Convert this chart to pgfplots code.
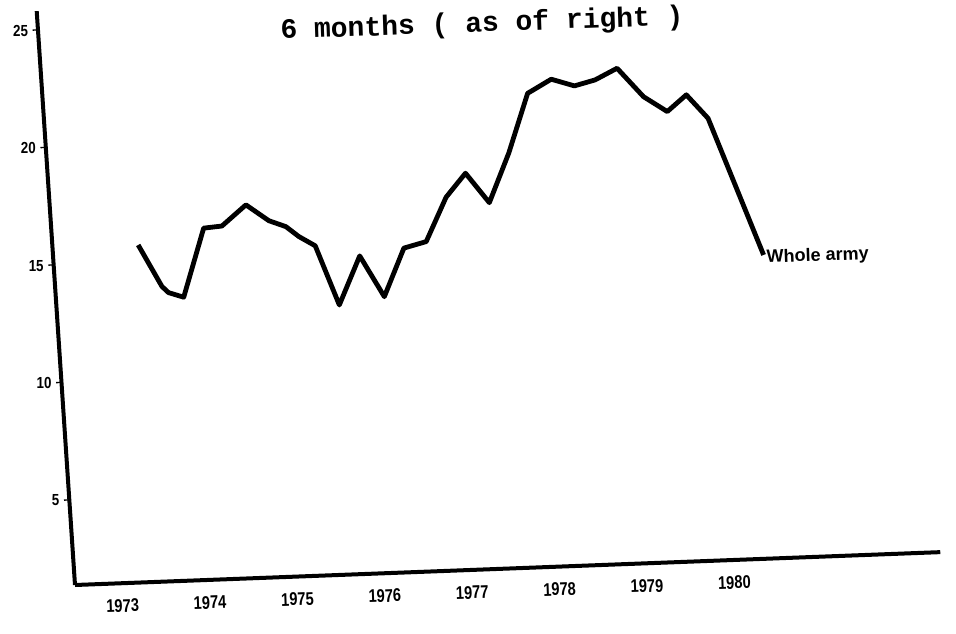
\documentclass[border=0pt]{standalone}
\usepackage{fontspec}
\setmainfont{Liberation Sans}
\newfontfamily\typew{Liberation Mono}
\usepackage{pgfplots}
\pgfplotsset{compat=1.18}

\begin{document}
\begin{tikzpicture}
\begin{axis}[
  name=ax,
  % the scan is slightly skewed: unit vectors follow it
  x={(65.55pt,2.49pt)}, y={(-1.176pt,17.625pt)},
  xmin=1972.47, xmax=1982.37,
  ymin=1.38, ymax=25.8,
  axis lines=left,
  axis line style={line width=3pt,-},
  xtick={1973,...,1980},
  ytick={5,10,15,20,25},
  /pgf/number format/assume math mode=true,
  /pgf/number format/1000 sep={},
  xticklabel style={font=\bfseries\fontsize{11}{11}\selectfont,rotate=2,yscale=1.25,yshift=-3pt},
  yticklabel style={font=\bfseries\fontsize{10}{10}\selectfont,yscale=1.2},
  xtick style={draw=none},
  ytick style={line width=1pt,black},
  major tick length=4pt,
  tick align=outside,
  clip=false,
]
\addplot[line width=3.6pt,black,line join=round] coordinates {
  (1973.45,15.71) (1973.69,13.91) (1973.76,13.64) (1973.93,13.42)
  (1974.21,16.32) (1974.42,16.38) (1974.71,17.24) (1974.96,16.53)
  (1975.15,16.25) (1975.29,15.81) (1975.47,15.39) (1975.70,12.84)
  (1975.97,14.89) (1976.22,13.12) (1976.48,15.15) (1976.74,15.39)
  (1977.00,17.24) (1977.24,18.23) (1977.49,16.94) (1977.75,19.02)
  (1978.01,21.52) (1978.29,22.08) (1978.55,21.76) (1978.79,21.98)
  (1979.05,22.44) (1979.33,21.19) (1979.59,20.52) (1979.82,21.20)
  (1980.05,20.17) (1980.58,14.28)
};
\node[anchor=west,font=\bfseries\fontsize{13.5}{13.5}\selectfont,rotate=2,inner sep=2pt,yshift=-2.5pt]
  at (axis cs:1980.58,14.28) {Whole army};
\node[anchor=base,font=\typew\bfseries\fontsize{21}{21}\selectfont,rotate=2]
  at (axis cs:1977.54,24.2) {6 months ( as of right )};
\coordinate (O) at (axis cs:1972.47,1.38);
\end{axis}
\pgfresetboundingbox
\path[use as bounding box] ([shift={(-56.25pt,-36pt)}]O) rectangle ++(717pt,474.75pt);
\end{tikzpicture}
\end{document}
